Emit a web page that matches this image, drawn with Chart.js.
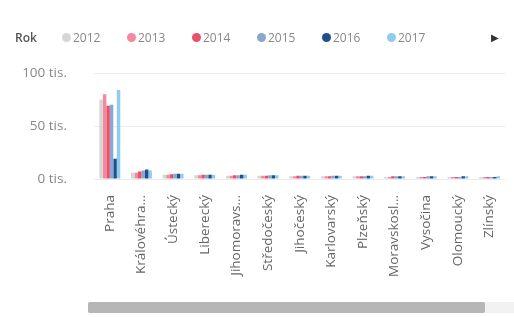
<!DOCTYPE html>
<html>
<head>
<meta charset="utf-8">
<script src="https://cdn.jsdelivr.net/npm/chart.js@4"></script>
<style>
  html, body { margin: 0; padding: 0; background: #fff; }
  #wrap { position: relative; width: 514px; height: 317px; overflow: hidden; font-family: "Open Sans", "DejaVu Sans", sans-serif; }
  #c { position: absolute; left: 0; top: 0; }
  #legend { position: absolute; left: 15px; top: 28px; height: 18px; display: flex; align-items: center; font-size: 12px; color: #888; }
  #legend .title { color: #555; font-weight: 600; width: 47px; }
  #legend .item { display: flex; align-items: center; width: 65px; }
  #legend .dot { width: 9px; height: 9px; border-radius: 50%; margin-right: 2px; }
  #arrow { position: absolute; left: 491px; top: 28px; font-size: 10px; color: #333; line-height: 18px; }
  #track { position: absolute; left: 88px; top: 302px; width: 426px; height: 11px; background: #f2f2f2; }
  #thumb { position: absolute; left: 88px; top: 302px; width: 397px; height: 11px; background: #b6b6b6; border-radius: 2px; }
</style>
</head>
<body>
<div id="wrap">
  <canvas id="c" width="514" height="317"></canvas>
  <div id="legend"></div>
  <div id="arrow">▶</div>
  <div id="track"></div>
  <div id="thumb"></div>
</div>
<script>
const legendTitle = 'Rok';
const categories = ['Praha', 'Královéhradecký', 'Ústecký', 'Liberecký', 'Jihomoravský', 'Středočeský', 'Jihočeský', 'Karlovarský', 'Plzeňský', 'Moravskoslezský', 'Vysočina', 'Olomoucký', 'Zlínský'];
const years = ['2012', '2013', '2014', '2015', '2016', '2017'];
const colors = ['#d6d6d6', '#f3899c', '#e9506a', '#88a8cf', '#1f4f8e', '#8ecdf0'];
// values in thousands (tis.)
const v2012 = [75, 6, 4, 3.5, 3, 3, 2.5, 2.5, 2.5, 2, 2, 2, 2];
const v2013 = [80, 6, 4, 3.5, 3, 3, 2.5, 2.5, 2.5, 2, 2, 2, 2];
const v2014 = [69, 7, 4.5, 4, 3.5, 3, 3, 2.5, 2.5, 2.5, 2, 2, 2];
const v2015 = [70, 8, 5, 4, 3.5, 3.5, 3, 3, 2.5, 2.5, 2.5, 2, 2];
const v2016 = [19, 9, 5, 4, 4, 3.5, 3, 3, 3, 2.5, 2.5, 2.5, 2];
const v2017 = [84, 8, 5, 4, 4, 3.5, 3, 3, 3, 2.5, 2.5, 2.5, 2.5];
const series = [v2012, v2013, v2014, v2015, v2016, v2017];
const yTicks = [0, 50, 100];
const unit = ' tis.';

// HTML legend
const lg = document.getElementById('legend');
const t = document.createElement('div'); t.className = 'title'; t.textContent = legendTitle; lg.appendChild(t);
years.forEach((y, i) => {
  const it = document.createElement('div'); it.className = 'item';
  const d = document.createElement('span'); d.className = 'dot'; d.style.background = colors[i];
  const s = document.createElement('span'); s.textContent = y;
  it.appendChild(d); it.appendChild(s); lg.appendChild(it);
});

const fam = '"Open Sans", "DejaVu Sans", sans-serif';
new Chart(document.getElementById('c'), {
  type: 'bar',
  data: {
    labels: categories,
    datasets: years.map((y, i) => ({
      label: y, data: series[i], backgroundColor: colors[i],
      categoryPercentage: 0.66, barPercentage: 1.0, borderWidth: 0
    }))
  },
  options: {
    responsive: false, animation: false, devicePixelRatio: 1,
    layout: { padding: { top: 73, right: 6, left: 0, bottom: 0 } },
    plugins: { legend: { display: false }, tooltip: { enabled: false } },
    scales: {
      x: {
        grid: { display: false }, border: { display: false },
        afterFit: s => { s.height = 138; },
        ticks: {
          autoSkip: false, minRotation: 90, maxRotation: 90, padding: 8, color: '#666',
          font: { family: fam, size: 13.5 },
          callback: function (v) { const l = this.getLabelForValue(v); return l.length > 11 ? l.slice(0, 10) + '…' : l; }
        }
      },
      y: {
        min: 0, max: 100,
        afterFit: s => { s.width = 94; },
        afterBuildTicks: s => { s.ticks = yTicks.map(v => ({ value: v })); },
        grid: { color: '#ececec', drawTicks: false }, border: { display: false },
        ticks: { padding: 27, color: '#888', font: { family: fam, size: 13.5 }, callback: v => v + unit }
      }
    }
  }
});
</script>
</body>
</html>
